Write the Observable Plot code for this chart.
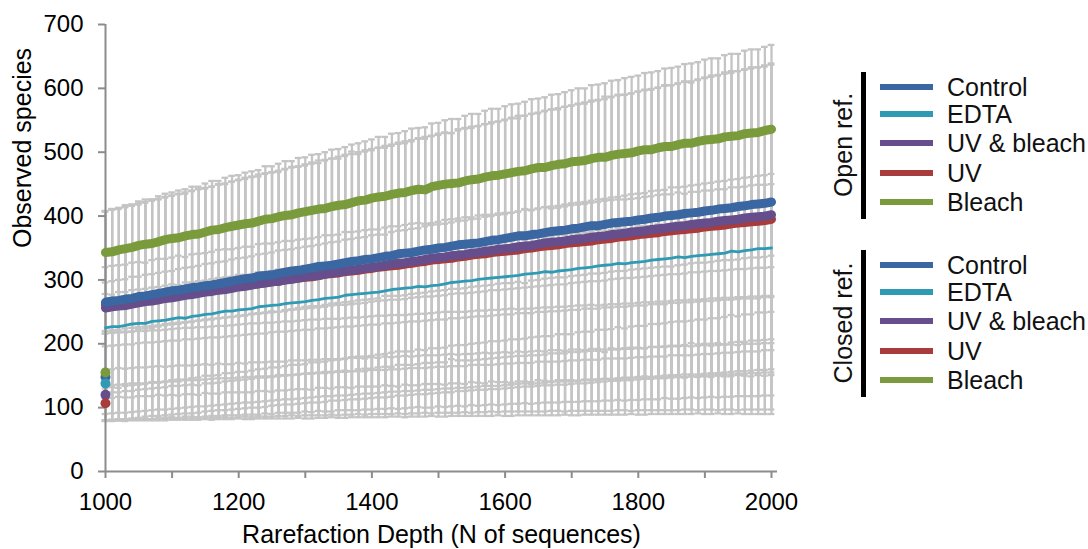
<!DOCTYPE html>
<html>
<head>
<meta charset="utf-8">
<script src="https://cdn.jsdelivr.net/npm/d3@7"></script>
<script src="https://cdn.jsdelivr.net/npm/@observablehq/plot@0.6"></script>
<style>
  html, body { margin: 0; padding: 0; background: #ffffff; }
  #wrap { position: relative; width: 1088px; height: 549px; overflow: hidden; font-family: "Liberation Sans", Arial, sans-serif; }
  .lg { position: absolute; white-space: nowrap; color: #111; font-size: 25px; line-height: 1; }
</style>
</head>
<body>
<div id="wrap"></div>
<script>
// ---------- data ----------
const depths = d3.range(1000, 2001, 10);
const xTicks = [1000, 1100, 1200, 1300, 1400, 1500, 1600, 1700, 1800, 1900, 2000];
const yTicks = [0, 100, 200, 300, 400, 500, 600, 700];
const groups = ["Open ref.", "Closed ref."];
const treatments = ["Control", "EDTA", "UV & bleach", "UV", "Bleach"];
const colors = ["#3a66a1", "#2f9ab3", "#664d8b", "#a83b3c", "#799b3c"];

// Open reference means
const open_control = [265,267,268,270,271,274,275,277,279,281,283,284,286,288,289,291,292,294,296,298,300,302,303,306,307,308,310,312,314,315,317,319,321,322,323,325,327,329,330,332,333,335,337,338,341,342,343,345,347,348,350,351,353,355,356,357,358,360,362,363,365,367,369,369,371,372,374,376,377,378,380,381,383,385,385,387,389,390,391,392,394,395,397,398,400,401,402,404,405,406,408,409,411,412,413,415,416,418,419,420,422];
const open_edta = [225,227,227,229,231,232,232,235,236,237,239,241,240,243,244,246,247,249,251,251,253,254,255,258,259,260,261,263,264,265,266,268,269,271,272,273,276,277,278,279,280,281,283,285,286,287,288,290,289,291,292,294,296,297,298,299,301,302,303,304,305,306,307,309,310,311,313,312,314,315,316,318,319,320,322,323,324,326,325,327,328,329,331,332,333,334,336,335,337,338,339,340,341,342,345,344,346,347,349,349,350];
const open_uvbleach = [256,258,259,260,262,264,266,267,269,271,272,274,276,277,279,281,282,284,285,287,289,290,292,294,295,297,298,300,301,303,305,306,307,309,311,312,314,315,317,318,320,321,323,325,326,327,329,330,332,334,335,336,338,339,340,342,343,345,346,348,349,350,352,353,354,356,358,359,360,361,363,364,365,367,368,369,371,372,373,375,376,377,379,380,381,383,384,385,387,388,389,390,392,393,394,395,397,398,399,400,402];
const open_uv = [261,263,264,265,267,268,270,272,273,274,276,277,278,280,281,283,284,286,287,289,290,291,293,294,296,297,298,300,302,303,304,305,307,309,310,311,313,314,315,317,318,320,321,322,323,325,326,328,329,331,332,333,334,336,337,339,340,341,343,344,345,346,347,349,350,352,353,354,355,357,358,359,360,361,363,364,365,367,368,369,371,372,373,374,376,377,378,379,380,381,383,384,385,386,388,389,390,391,392,393,395];
const open_bleach = [343,344,347,349,351,354,356,357,360,363,365,366,369,371,372,375,378,379,382,384,386,388,389,392,395,396,399,401,402,405,407,409,411,412,415,417,418,421,424,425,428,430,431,434,436,437,440,442,441,446,448,450,451,452,455,457,458,461,463,464,466,468,470,471,474,476,476,479,481,482,485,486,487,490,492,492,495,497,498,499,502,504,504,507,509,509,512,514,514,517,519,520,521,524,525,526,529,530,531,534,536];

// Open reference standard deviations
const open_control_sd = [142,143,144,144,145,146,146,147,148,149,149,150,151,152,154,153,154,155,155,156,157,158,158,159,160,160,161,162,163,163,164,165,166,166,167,168,169,172,170,171,172,172,173,174,174,175,176,177,177,178,179,180,177,181,182,183,183,184,185,185,186,187,188,188,189,190,191,191,192,193,193,194,195,196,196,200,198,199,199,200,201,202,202,203,204,204,205,206,204,207,208,209,210,213,211,212,213,213,214,214,215];
const open_edta_sd = [95,95,96,95,96,96,95,96,97,96,96,97,96,97,97,96,97,98,97,97,97,98,97,98,98,97,98,98,97,98,98,97,98,99,98,98,99,98,98,99,99,98,99,99,98,99,100,99,99,98,99,100,99,99,100,99,100,100,99,100,100,99,100,101,100,100,101,100,99,100,101,100,100,101,100,101,101,100,101,100,100,101,100,101,101,100,101,100,101,100,101,100,101,100,100,101,100,101,100,100,100];
const open_uvbleach_sd = [40,40,41,41,43,41,42,42,42,42,42,43,43,43,43,44,44,44,44,45,45,45,45,46,46,46,48,47,47,47,47,47,48,48,48,48,49,49,49,49,50,50,48,50,51,51,51,51,52,52,52,52,52,53,53,53,53,54,54,54,54,55,55,58,55,56,56,56,56,57,57,57,57,57,58,58,58,58,59,59,59,59,60,60,60,62,61,61,61,61,62,62,62,62,63,63,63,63,64,64,64];
const open_uv_sd = [146,148,147,149,151,150,152,154,153,155,156,158,157,159,161,160,162,164,163,165,166,167,169,168,170,172,171,173,174,174,175,177,176,178,180,179,181,183,182,184,185,187,186,188,190,189,191,193,192,194,195,197,196,198,200,199,201,203,202,204,205,207,206,208,210,209,211,213,212,214,215,217,216,218,219,219,221,223,222,223,224,226,225,227,229,228,230,232,231,233,234,236,235,237,239,238,240,242,241,243,244];
const open_bleach_sd = [65,67,66,68,67,69,70,69,71,72,72,74,73,75,74,76,77,76,78,79,78,80,81,80,83,82,83,85,84,86,85,87,86,88,89,88,90,91,90,92,92,94,93,95,94,96,97,96,98,99,98,100,101,100,102,103,102,104,105,104,106,107,106,108,109,108,110,111,110,112,112,114,113,115,114,116,117,116,118,119,118,120,121,120,122,123,122,124,125,124,126,127,126,128,129,128,130,131,130,131,132];

// Closed reference means
const closed_control = [148,149,150,150,151,152,153,154,154,155,156,157,158,158,159,160,161,162,162,163,164,165,166,166,167,168,169,170,170,171,172,173,173,174,175,175,176,177,177,178,179,180,180,181,182,182,183,184,184,185,186,187,187,188,188,189,190,190,191,191,192,193,193,194,194,195,196,196,197,197,198,199,199,200,200,201,202,202,203,203,204,205,205,206,206,207,208,208,209,209,210,211,211,212,212,213,213,214,214,215,215];
const closed_edta = [138,139,139,140,140,141,142,142,143,143,144,144,145,145,146,146,147,147,148,148,149,150,150,151,151,152,153,153,154,154,155,155,156,156,157,157,158,158,159,159,160,160,161,161,162,162,163,163,164,164,165,165,166,166,167,167,168,168,169,169,170,170,171,171,171,172,172,173,173,173,174,174,175,175,175,176,176,177,177,177,178,178,179,179,179,180,180,181,181,181,182,182,182,183,183,183,184,184,184,185,185];
const closed_uvbleach = [120,120,121,121,122,122,123,123,124,124,125,125,126,126,126,127,127,128,128,128,129,129,130,130,131,131,132,132,133,133,134,134,135,135,135,136,136,137,137,137,138,138,139,139,139,140,140,141,141,141,142,142,143,143,143,144,144,145,145,145,146,146,147,147,147,148,148,149,149,149,150,150,150,151,151,151,152,152,152,153,153,153,154,154,155,155,155,156,156,156,157,157,157,158,158,158,159,159,159,160,160];
const closed_uv = [107,107,108,108,109,109,109,110,110,110,111,111,112,112,112,113,113,114,114,114,115,115,115,116,116,116,117,117,117,118,118,118,119,119,120,120,120,121,121,121,122,122,122,123,123,123,124,124,124,125,125,125,126,126,126,127,127,127,127,128,128,128,129,129,129,130,130,130,130,131,131,131,132,132,132,133,133,133,133,134,134,134,135,135,135,136,136,136,136,137,137,137,138,138,138,139,139,139,139,140,140];
const closed_bleach = [155,156,157,158,159,160,161,162,163,164,165,166,167,168,169,170,171,172,173,174,175,176,177,178,179,180,181,182,183,184,185,186,187,188,189,190,190,191,192,193,194,195,196,197,197,198,199,200,201,201,202,203,204,205,205,206,207,208,209,209,210,211,212,213,213,214,215,216,217,217,218,219,220,221,221,222,223,224,225,225,226,227,227,228,229,230,230,231,232,232,233,234,234,235,236,237,237,238,239,239,240];

// Closed reference standard deviations
const closed_control_sd = [68,68,68,68,68,68,67,67,67,67,67,67,67,67,67,66,66,66,66,66,66,66,66,66,66,65,65,65,65,65,65,65,65,65,64,64,64,64,64,64,64,64,64,64,63,63,63,63,63,63,63,63,63,62,62,62,62,62,62,62,62,62,61,61,61,61,61,61,61,61,61,61,61,61,60,60,60,60,60,60,60,60,60,60,60,60,60,60,60,60,60,60,60,60,60,60,60,60,60,60,60];
const closed_edta_sd = [58,58,59,59,59,60,60,60,60,61,61,61,62,62,62,63,63,63,63,64,64,64,65,65,65,66,66,66,66,67,67,67,68,68,68,69,69,69,69,70,70,70,71,71,71,72,72,72,72,73,73,73,74,74,74,75,75,75,75,76,76,76,77,77,77,78,78,78,78,79,79,79,80,80,80,81,81,81,81,82,82,82,83,83,83,84,84,84,84,85,85,85,86,86,86,87,87,87,87,88,88];
const closed_uvbleach_sd = [40,40,41,40,40,41,40,41,41,40,40,41,40,40,41,41,40,41,40,40,41,40,41,41,40,41,40,40,41,41,40,41,40,41,41,40,40,41,41,40,41,40,41,40,41,41,40,40,41,41,40,41,41,40,41,40,41,41,40,41,41,40,41,40,41,41,40,41,41,40,41,41,40,41,41,40,41,40,41,41,41,40,41,41,40,41,41,41,40,41,41,40,41,41,41,40,41,41,41,41,41];
const closed_uv_sd = [28,28,28,29,29,29,29,30,30,30,30,30,31,31,31,31,32,32,32,32,32,33,33,33,33,33,34,34,34,34,35,35,35,35,35,36,36,36,36,36,37,37,37,37,37,38,38,38,38,38,39,39,39,39,39,40,40,40,40,40,41,41,41,41,41,42,42,42,42,42,43,43,43,43,43,44,44,44,44,44,45,45,45,45,45,46,46,46,46,46,47,47,47,48,48,48,49,49,49,50,50];
const closed_bleach_sd = [65,65,65,66,66,66,66,66,66,67,67,67,67,67,67,68,68,68,68,68,68,68,69,69,69,69,69,69,70,70,70,70,70,70,71,71,71,71,71,71,72,72,72,72,72,72,73,73,73,73,73,73,74,74,74,74,74,74,75,75,75,75,75,75,76,76,76,76,76,76,77,77,77,77,77,77,78,78,78,78,78,78,79,79,79,79,79,79,80,80,80,80,80,80,80,80,80,80,80,80,80];

// ---------- table ----------
const series = [
  {group: groups[0], name: treatments[0], mean: open_control, sd: open_control_sd},
  {group: groups[0], name: treatments[1], mean: open_edta, sd: open_edta_sd},
  {group: groups[0], name: treatments[2], mean: open_uvbleach, sd: open_uvbleach_sd},
  {group: groups[0], name: treatments[3], mean: open_uv, sd: open_uv_sd},
  {group: groups[0], name: treatments[4], mean: open_bleach, sd: open_bleach_sd},
  {group: groups[1], name: treatments[0], mean: closed_control, sd: closed_control_sd},
  {group: groups[1], name: treatments[1], mean: closed_edta, sd: closed_edta_sd},
  {group: groups[1], name: treatments[2], mean: closed_uvbleach, sd: closed_uvbleach_sd},
  {group: groups[1], name: treatments[3], mean: closed_uv, sd: closed_uv_sd},
  {group: groups[1], name: treatments[4], mean: closed_bleach, sd: closed_bleach_sd}
];
const rows = series.flatMap(s => depths.map((d, i) => ({
  group: s.group, name: s.name, depth: d,
  mean: s.mean[Math.min(i, s.mean.length - 1)],
  sd: s.sd[Math.min(i, s.sd.length - 1)]
})));
const openRows = name => rows.filter(r => r.group === groups[0] && r.name === name);
const closedFirst = rows.filter(r => r.group === groups[1] && r.depth === depths[0]);

const gray = "#c4c4c4";
const axisGray = "#8c8c8c";
const capHalf = 5;

const thick = name => Plot.line(openRows(name), {
  x: "depth", y: "mean", stroke: "name", strokeWidth: 9,
  strokeLinecap: "round", strokeLinejoin: "round"
});

const chart = Plot.plot({
  width: 1088, height: 549,
  marginLeft: 105, marginRight: 311, marginTop: 24, marginBottom: 78,
  x: {domain: [1000, 2009]},
  y: {domain: [0, 700]},
  color: {domain: treatments, range: colors},
  style: {fontFamily: "'Liberation Sans', Arial, sans-serif", fontSize: "24px", color: "#000", background: "#ffffff"},
  marks: [
    Plot.ruleX(rows, {x: "depth", y1: d => d.mean - d.sd, y2: d => d.mean + d.sd, stroke: gray, strokeWidth: 2.3}),
    Plot.ruleY(rows, {x1: d => d.depth - capHalf, x2: d => d.depth + capHalf, y: d => d.mean + d.sd, stroke: gray, strokeWidth: 2.3}),
    Plot.ruleY(rows, {x1: d => d.depth - capHalf, x2: d => d.depth + capHalf, y: d => d.mean - d.sd, stroke: gray, strokeWidth: 2.3}),
    Plot.ruleY([0], {stroke: axisGray, strokeWidth: 2}),
    Plot.ruleX([depths[0]], {stroke: axisGray, strokeWidth: 2}),
    Plot.axisY({ticks: yTicks, tickSize: 7, tickPadding: 15, stroke: axisGray, strokeWidth: 2, label: null, fontSize: 24}),
    Plot.axisX({ticks: xTicks, tickSize: 7, tickPadding: 14, stroke: axisGray, strokeWidth: 2, label: null, fontSize: 24,
      tickFormat: d => (d % 200 === 0 ? String(d) : "")}),
    Plot.line(openRows(treatments[1]), {x: "depth", y: "mean", stroke: "name", strokeWidth: 2.8, strokeLinejoin: "round"}),
    thick(treatments[3]),
    thick(treatments[2]),
    thick(treatments[0]),
    thick(treatments[4]),
    Plot.dot(closedFirst, {x: "depth", y: "mean", fill: "name", r: 5}),
    Plot.text(["Observed species"], {frameAnchor: "left", rotate: -90, dx: -92, lineAnchor: "top", fontSize: 25, fill: "#000"}),
    Plot.text(["Rarefaction Depth (N of sequences)"], {frameAnchor: "bottom", lineAnchor: "top", dy: 54, fontSize: 25, fill: "#000"})
  ]
});

const wrap = document.getElementById("wrap");
wrap.appendChild(chart);

// ---------- legend ----------
const groupTop = [72, 250];
const entryOffsets = [15, 42, 71, 101, 130];
groups.forEach((g, gi) => {
  const top = groupTop[gi];
  const bar = document.createElement("div");
  bar.style.cssText = `position:absolute;left:861px;top:${top}px;width:5px;height:147px;background:#000;`;
  wrap.appendChild(bar);
  const lab = document.createElement("div");
  lab.className = "lg";
  lab.textContent = g;
  lab.style.left = "843px";
  lab.style.top = (top + 73) + "px";
  lab.style.transform = "translate(-50%,-50%) rotate(-90deg)";
  wrap.appendChild(lab);
  treatments.forEach((t, ti) => {
    const y = top + entryOffsets[ti];
    const sw = document.createElement("div");
    sw.style.cssText = `position:absolute;left:880px;top:${y - 3}px;width:53px;height:6px;background:${colors[ti]};`;
    wrap.appendChild(sw);
    const tx = document.createElement("div");
    tx.className = "lg";
    tx.textContent = t;
    tx.style.left = "947px";
    tx.style.top = y + "px";
    tx.style.transform = "translateY(-50%)";
    wrap.appendChild(tx);
  });
});
</script>
</body>
</html>
